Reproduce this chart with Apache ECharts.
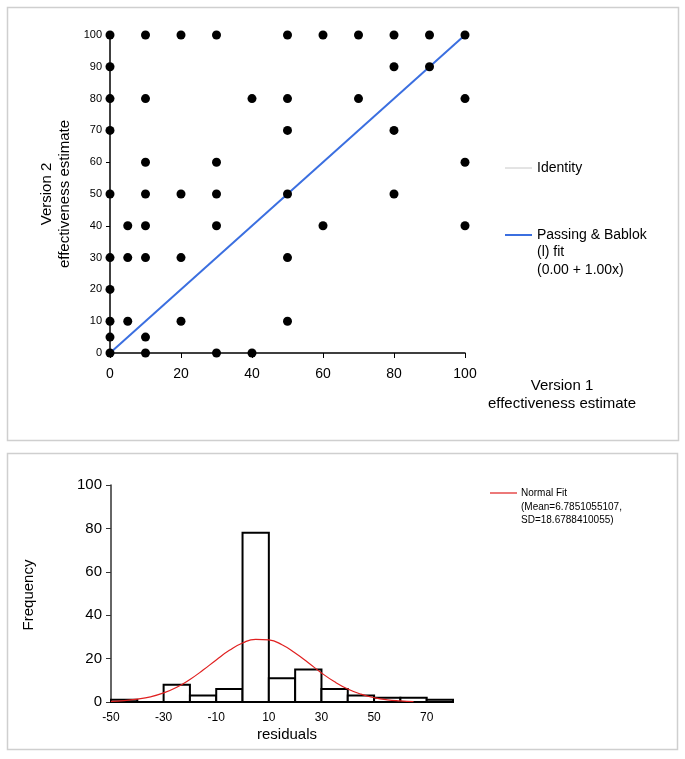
<!DOCTYPE html>
<html>
<head>
<meta charset="utf-8">
<script src="https://cdn.jsdelivr.net/npm/echarts@6/dist/echarts.min.js"></script>
<style>
  html, body { margin: 0; padding: 0; background: #fff; }
  #chart { width: 685px; height: 759px; }
</style>
</head>
<body>
<div id="chart"></div>
<script>
// Scatter: version 1 vs version 2 estimates
const version1 = [0, 10, 20, 30, 50, 60, 70, 80, 90, 100,
  0, 80, 90,
  0, 10, 40, 50, 70, 100,
  0, 50, 80,
  10, 30, 100,
  0, 10, 20, 30, 50, 80,
  5, 10, 30, 60, 100,
  0, 5, 10, 20, 50,
  0,
  0, 5, 20, 50,
  0, 10,
  0, 10, 30, 40];
const version2 = [100, 100, 100, 100, 100, 100, 100, 100, 100, 100,
  90, 90, 90,
  80, 80, 80, 80, 80, 80,
  70, 70, 70,
  60, 60, 60,
  50, 50, 50, 50, 50, 50,
  40, 40, 40, 40, 40,
  30, 30, 30, 30, 30,
  20,
  10, 10, 10, 10,
  5, 5,
  0, 0, 0, 0];
const fitX = [0, 100];
const fitY = [0, 100];

// Histogram of residuals
const binStarts = [-50, -40, -30, -20, -10, 0, 10, 20, 30, 40, 50, 60, 70];
const binWidth = 10;
const counts = [1, 0, 8, 3, 6, 78, 11, 15, 6, 3, 2, 2, 1];
const curveX = [-50, -45, -40, -35, -30, -25, -20, -15, -10, -5, 0, 5, 10, 15, 20, 25, 30, 35, 40, 45, 50, 55, 60, 65];
const curveY = [0.3, 0.6, 1.3, 2.4, 4.2, 6.8, 10.4, 14.7, 19.4, 23.8, 27.2, 28.9, 28.6, 26.4, 22.6, 18.1, 13.4, 9.3, 6.0, 3.6, 2.0, 1.0, 0.5, 0.2];

const FONT = 'Liberation Sans, Arial, sans-serif';

const chart = echarts.init(document.getElementById('chart'));

const scatterData = version1.map((x, i) => [x, version2[i]]);
const fitData = fitX.map((x, i) => [x, fitY[i]]);
const barData = binStarts.map((s, i) => [s, s + binWidth, counts[i]]);
const curveData = curveX.map((x, i) => [x, curveY[i]]);

chart.setOption({
  animation: false,
  grid: [
    { left: 110, top: 35, right: 220, bottom: 406 },
    { left: 111, top: 485, right: 232, bottom: 57 }
  ],
  xAxis: [
    {
      gridIndex: 0, type: 'value', min: 0, max: 100, interval: 20,
      axisLine: { onZero: false, lineStyle: { color: '#000', width: 1.5 } },
      axisTick: { inside: false, length: 5, lineStyle: { color: '#000' } },
      axisLabel: { fontFamily: FONT, fontSize: 14, color: '#000', margin: 14 },
      splitLine: { show: false }
    },
    {
      gridIndex: 1, type: 'value', min: -50, max: 80, interval: 10,
      axisLine: { onZero: false, lineStyle: { color: '#333', width: 1.5 } },
      axisTick: { show: false },
      axisLabel: {
        fontFamily: FONT, fontSize: 12, color: '#000', margin: 10,
        formatter: v => ((v + 50) % 20 === 0 && v < 80) ? String(v) : ''
      },
      splitLine: { show: false }
    }
  ],
  yAxis: [
    {
      gridIndex: 0, type: 'value', min: 0, max: 100, interval: 10,
      axisLine: { show: true, onZero: false, lineStyle: { color: '#000', width: 1.5 } },
      axisTick: { show: true, length: 4, lineStyle: { color: '#000' } },
      axisLabel: { fontFamily: FONT, fontSize: 11, color: '#000', margin: 8 },
      splitLine: { show: false }
    },
    {
      gridIndex: 1, type: 'value', min: 0, max: 100, interval: 20,
      axisLine: { show: true, onZero: false, lineStyle: { color: '#333', width: 1.5 } },
      axisTick: { show: true, length: 5, lineStyle: { color: '#333' } },
      axisLabel: { fontFamily: FONT, fontSize: 15, color: '#000', margin: 9 },
      splitLine: { show: false }
    }
  ],
  series: [
    {
      name: 'Identity', type: 'line', xAxisIndex: 0, yAxisIndex: 0,
      data: fitData, showSymbol: false,
      lineStyle: { color: '#c8c8c8', width: 1 }, z: 1
    },
    {
      name: 'Passing & Bablok', type: 'line', xAxisIndex: 0, yAxisIndex: 0,
      data: fitData, showSymbol: false,
      lineStyle: { color: '#3b6fe0', width: 2 }, z: 2
    },
    {
      type: 'scatter', xAxisIndex: 0, yAxisIndex: 0,
      data: scatterData, symbolSize: 9, clip: false,
      itemStyle: { color: '#000', opacity: 1 }, z: 3
    },
    {
      type: 'custom', xAxisIndex: 1, yAxisIndex: 1,
      data: barData,
      renderItem: (params, api) => {
        const p0 = api.coord([api.value(0), api.value(2)]);
        const p1 = api.coord([api.value(1), 0]);
        return {
          type: 'rect',
          shape: { x: p0[0], y: p0[1], width: p1[0] - p0[0], height: p1[1] - p0[1] },
          style: { fill: '#fff', stroke: '#000', lineWidth: 2 }
        };
      },
      z: 2
    },
    {
      name: 'Normal Fit', type: 'line', xAxisIndex: 1, yAxisIndex: 1,
      data: curveData, smooth: true, showSymbol: false,
      lineStyle: { color: '#e02020', width: 1.2 }, z: 4
    }
  ],
  graphic: [
    // panel borders
    { type: 'rect', shape: { x: 7.5, y: 7.5, width: 671, height: 433 },
      style: { fill: 'none', stroke: '#cfcfcf', lineWidth: 1.5 }, silent: true },
    { type: 'rect', shape: { x: 7.5, y: 453.5, width: 670, height: 296 },
      style: { fill: 'none', stroke: '#cfcfcf', lineWidth: 1.5 }, silent: true },
    // scatter axis titles
    { type: 'text', x: 562, y: 386, style: { text: 'Version 1', fontFamily: FONT, fontSize: 15, fill: '#000', align: 'center', verticalAlign: 'middle' } },
    { type: 'text', x: 562, y: 404, style: { text: 'effectiveness estimate', fontFamily: FONT, fontSize: 15, fill: '#000', align: 'center', verticalAlign: 'middle' } },
    { type: 'text', x: 47, y: 194, rotation: Math.PI / 2, style: { text: 'Version 2', fontFamily: FONT, fontSize: 15, fill: '#000', align: 'center', verticalAlign: 'middle' } },
    { type: 'text', x: 65, y: 194, rotation: Math.PI / 2, style: { text: 'effectiveness estimate', fontFamily: FONT, fontSize: 15, fill: '#000', align: 'center', verticalAlign: 'middle' } },
    // scatter legend
    { type: 'line', shape: { x1: 505, y1: 168, x2: 532, y2: 168 }, style: { stroke: '#c8c8c8', lineWidth: 1 } },
    { type: 'text', x: 537, y: 168, style: { text: 'Identity', fontFamily: FONT, fontSize: 14, fill: '#000', verticalAlign: 'middle' } },
    { type: 'line', shape: { x1: 505, y1: 235, x2: 532, y2: 235 }, style: { stroke: '#3b6fe0', lineWidth: 2 } },
    { type: 'text', x: 537, y: 235, style: { text: 'Passing & Bablok', fontFamily: FONT, fontSize: 14, fill: '#000', verticalAlign: 'middle' } },
    { type: 'text', x: 537, y: 252, style: { text: '(l) fit', fontFamily: FONT, fontSize: 14, fill: '#000', verticalAlign: 'middle' } },
    { type: 'text', x: 537, y: 270, style: { text: '(0.00 + 1.00x)', fontFamily: FONT, fontSize: 14, fill: '#000', verticalAlign: 'middle' } },
    // histogram axis titles
    { type: 'text', x: 287, y: 735, style: { text: 'residuals', fontFamily: FONT, fontSize: 15, fill: '#000', align: 'center', verticalAlign: 'middle' } },
    { type: 'text', x: 29, y: 595, rotation: Math.PI / 2, style: { text: 'Frequency', fontFamily: FONT, fontSize: 15, fill: '#000', align: 'center', verticalAlign: 'middle' } },
    // histogram legend
    { type: 'line', shape: { x1: 490, y1: 493, x2: 517, y2: 493 }, style: { stroke: '#e02020', lineWidth: 1.2 } },
    { type: 'text', x: 521, y: 493, style: { text: 'Normal Fit', fontFamily: FONT, fontSize: 10, fill: '#000', verticalAlign: 'middle' } },
    { type: 'text', x: 521, y: 507, style: { text: '(Mean=6.7851055107,', fontFamily: FONT, fontSize: 10, fill: '#000', verticalAlign: 'middle' } },
    { type: 'text', x: 521, y: 520, style: { text: 'SD=18.6788410055)', fontFamily: FONT, fontSize: 10, fill: '#000', verticalAlign: 'middle' } }
  ]
});
</script>
</body>
</html>
